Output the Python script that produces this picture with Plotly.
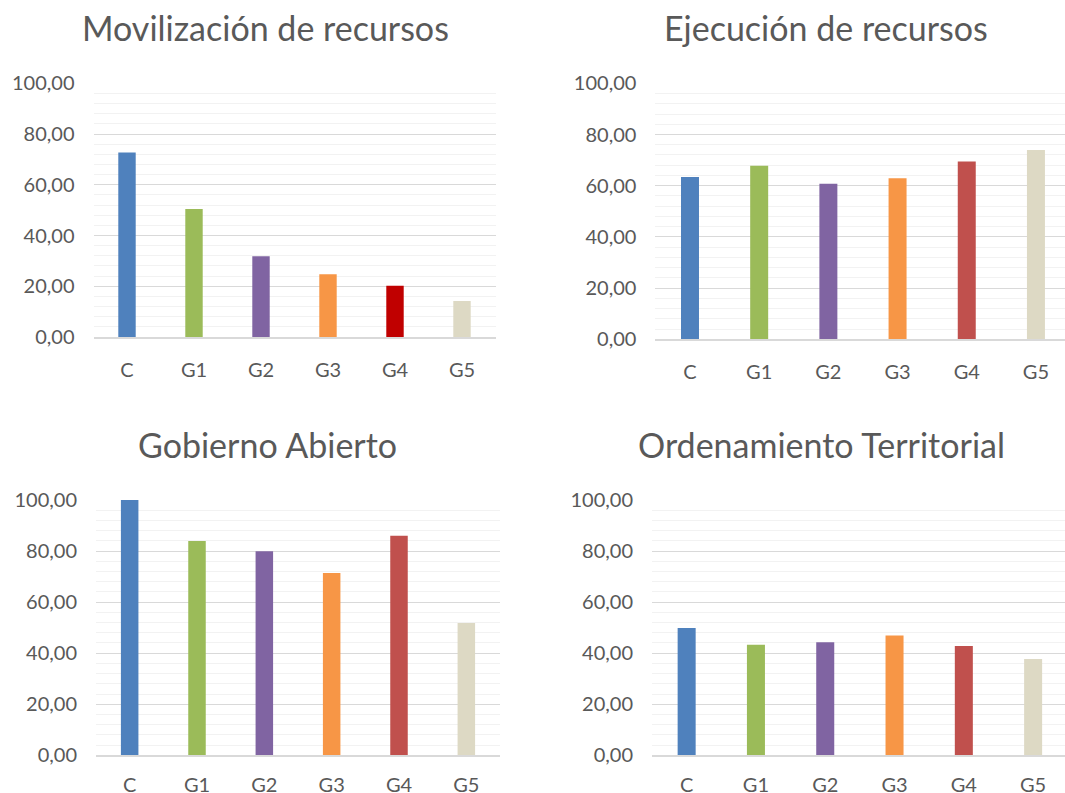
import plotly.graph_objects as go
from plotly.subplots import make_subplots

W, H = 1065, 793

categories = ['C', 'G1', 'G2', 'G3', 'G4', 'G5']

movilizacion = [72.7, 50.5, 31.8, 24.7, 20.2, 14.2]
ejecucion = [63.4, 67.8, 60.8, 62.9, 69.5, 73.9]
gobierno_abierto = [100.0, 83.9, 79.9, 71.4, 86.0, 51.8]
ordenamiento = [49.9, 43.3, 44.3, 46.9, 42.8, 37.7]

titles = ['Movilización de recursos', 'Ejecución de recursos',
          'Gobierno Abierto', 'Ordenamiento Territorial']

base_colors = ['#4F81BD', '#9BBB59', '#8064A2', '#F79646', '#C0504D', '#DDD9C4']
# first panel uses a darker red for G4
first_colors = ['#4F81BD', '#9BBB59', '#8064A2', '#F79646', '#C00000', '#DDD9C4']

FONT = 'Lato'
GREY = '#595959'

fig = make_subplots(rows=2, cols=2)

panels = [
    (movilizacion, first_colors, 1, 1),
    (ejecucion, base_colors, 1, 2),
    (gobierno_abierto, base_colors, 2, 1),
    (ordenamiento, base_colors, 2, 2),
]

for vals, cols, r, c in panels:
    fig.add_trace(go.Bar(
        x=categories,
        y=vals,
        marker=dict(color=cols, line=dict(width=0)),
        width=0.26,
        showlegend=False,
        hovertemplate='%{x}: %{y:.2f}<extra></extra>'
    ), row=r, col=c)

# plot areas in pixels: (left, right, top, bottom)
boxes = {
    (1, 1): (93.5, 495.5, 83.3, 337.0),
    (1, 2): (655.4, 1065, 83.3, 339.3),
    (2, 1): (96.0, 500.0, 500.0, 755.3),
    (2, 2): (652.0, 1065, 500.0, 755.3),
}
# right-hand panels are cropped at the page edge in the original
xranges = {
    (1, 1): [-0.5, 5.5],
    (1, 2): [-0.5, 5.42],
    (2, 1): [-0.5, 5.5],
    (2, 2): [-0.5, 5.46],
}

for (r, c), (l, rt, t, b) in boxes.items():
    fig.update_xaxes(
        domain=[l / W, min(rt / W, 1)],
        range=xranges[(r, c)],
        automargin=False,
        showgrid=False,
        showline=True, linecolor='#D9D9D9', linewidth=1.5,
        ticks='', ticklabelstandoff=14 if r == 1 else 11,
        tickfont=dict(family=FONT, size=20, color=GREY),
        fixedrange=True,
        row=r, col=c
    )
    fig.update_yaxes(
        domain=[1 - b / H, 1 - t / H],
        range=[0, 100],
        automargin=False,
        tick0=0, dtick=20,
        tickformat='.2f',
        showgrid=True, gridcolor='#D9D9D9', gridwidth=1,
        minor=dict(dtick=4, showgrid=True, gridcolor='#F2F2F2', gridwidth=1),
        zeroline=False,
        ticks='', ticklabelstandoff=18,
        tickfont=dict(family=FONT, size=20, color=GREY),
        fixedrange=True,
        row=r, col=c
    )

title_pos = [(265.3, 28), (826, 28), (267.5, 444), (821.5, 444)]
for text, (x, y) in zip(titles, title_pos):
    fig.add_annotation(
        text=text, xref='paper', yref='paper',
        x=x / W, y=1 - y / H, xanchor='center', yanchor='middle',
        showarrow=False,
        font=dict(family=FONT, size=34, color=GREY)
    )

fig.update_layout(
    width=W, height=H,
    margin=dict(l=0, r=0, t=0, b=0, autoexpand=False),
    paper_bgcolor='white',
    plot_bgcolor='white',
    separators=',.',
)

fig.write_html("out.html", config={'displayModeBar': False},
               post_script="document.body.style.margin='0';")
